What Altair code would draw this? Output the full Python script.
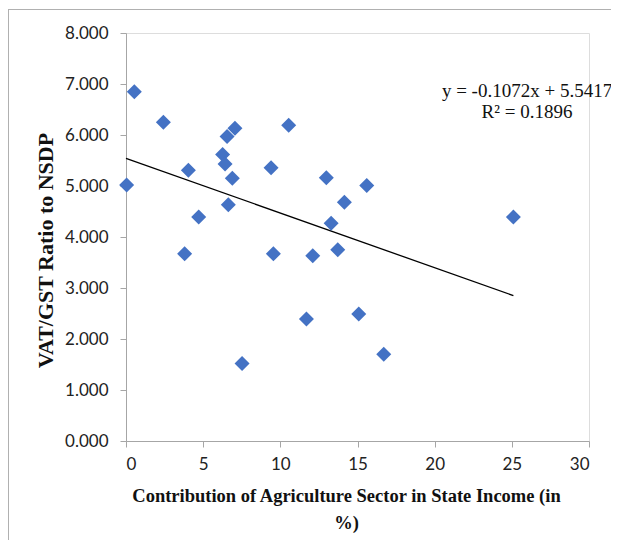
import altair as alt
import pandas as pd

# Data
agri_share = [0.04, 0.54, 2.42, 3.80, 4.04, 4.71, 6.26, 6.42, 6.55, 6.63, 6.89, 7.06, 7.52,
              9.40, 9.55, 10.54, 11.69, 12.10, 12.98, 13.29, 13.72, 14.15, 15.08, 15.60, 16.70, 25.10]
vat_ratio = [5.02, 6.85, 6.25, 3.67, 5.31, 4.39, 5.62, 5.43, 5.97, 4.63, 5.15, 6.13, 1.52,
             5.36, 3.67, 6.19, 2.39, 3.63, 5.16, 4.27, 3.75, 4.68, 2.49, 5.01, 1.70, 4.39]

slope = -0.1072
intercept = 5.5417
trend_x = [0.0, 25.1]
equation_lines = ["y = -0.1072x + 5.5417", "R\u00b2 = 0.1896"]

x_title = ["Contribution of Agriculture Sector in State Income (in", "%)"]
y_title = "VAT/GST Ratio to NSDP"

df = pd.DataFrame({"x": agri_share, "y": vat_ratio})
trend = pd.DataFrame({"x": trend_x, "y": [slope * v + intercept for v in trend_x]})
one = pd.DataFrame({"a": [0]})

W, H = 463, 408

xscale = alt.Scale(domain=[0, 30], nice=False)
yscale = alt.Scale(domain=[0, 8], nice=False)

xaxis = alt.Axis(values=[0, 5, 10, 15, 20, 25, 30], grid=False, title=x_title,
                 labelFont="Lato", labelFontSize=17, labelColor="#222222",
                 labelPadding=9, tickSize=6, tickColor="#a6a6a6", domainColor="#a6a6a6",
                 titleFont="Liberation Serif", titleFontSize=18.5, titleFontWeight="bold",
                 titleColor="#111111", titleX=220, titleY=45, titleBaseline="top",
                 titleLineHeight=27, titleAnchor="middle", titleAlign="center")
yaxis = alt.Axis(values=[0, 1, 2, 3, 4, 5, 6, 7, 8], format=".3f", grid=False, title=y_title,
                 labelFont="Lato", labelFontSize=17, labelColor="#222222",
                 labelPadding=12, tickSize=6, tickColor="#a6a6a6", domainColor="#a6a6a6",
                 titleFont="Liberation Serif", titleFontSize=22, titleFontWeight="bold",
                 titleColor="#111111", titleX=-81, titleY=217, titleBaseline="middle",
                 titleAlign="center", titleAngle=270)

points = alt.Chart(df).mark_point(shape="diamond", filled=True, size=225,
                                  color="#4472C4", opacity=1).encode(
    x=alt.X("x:Q", scale=xscale, axis=xaxis),
    y=alt.Y("y:Q", scale=yscale, axis=yaxis),
)

line = alt.Chart(trend).mark_line(color="#000000", strokeWidth=1.3).encode(
    x=alt.X("x:Q", scale=xscale),
    y=alt.Y("y:Q", scale=yscale),
)

def eq_text(s, ypix):
    return alt.Chart(one).mark_text(font="Liberation Serif", fontSize=19, color="#111111",
                                    align="center", baseline="middle").encode(
        x=alt.value(401), y=alt.value(ypix), text=alt.value(s))

text1 = eq_text(equation_lines[0], 58)
text2 = eq_text(equation_lines[1], 79)

frame_top = alt.Chart(one).mark_rule(color="#b0b0b0", strokeWidth=1).encode(
    x=alt.value(-118), x2=alt.value(700), y=alt.value(-23.5))
frame_left = alt.Chart(one).mark_rule(color="#b0b0b0", strokeWidth=1).encode(
    x=alt.value(-117.5), y=alt.value(-23.5), y2=alt.value(700))

chart = alt.layer(frame_top, frame_left, line, points, text1, text2).properties(
    width=W, height=H,
    autosize=alt.AutoSizeParams(type="none"),
    padding={"left": 118, "top": 25, "right": 22, "bottom": 99},
).configure_view(stroke=None).configure(background="white")

chart.save("out.html", embed_options={"renderer": "svg", "actions": False})
